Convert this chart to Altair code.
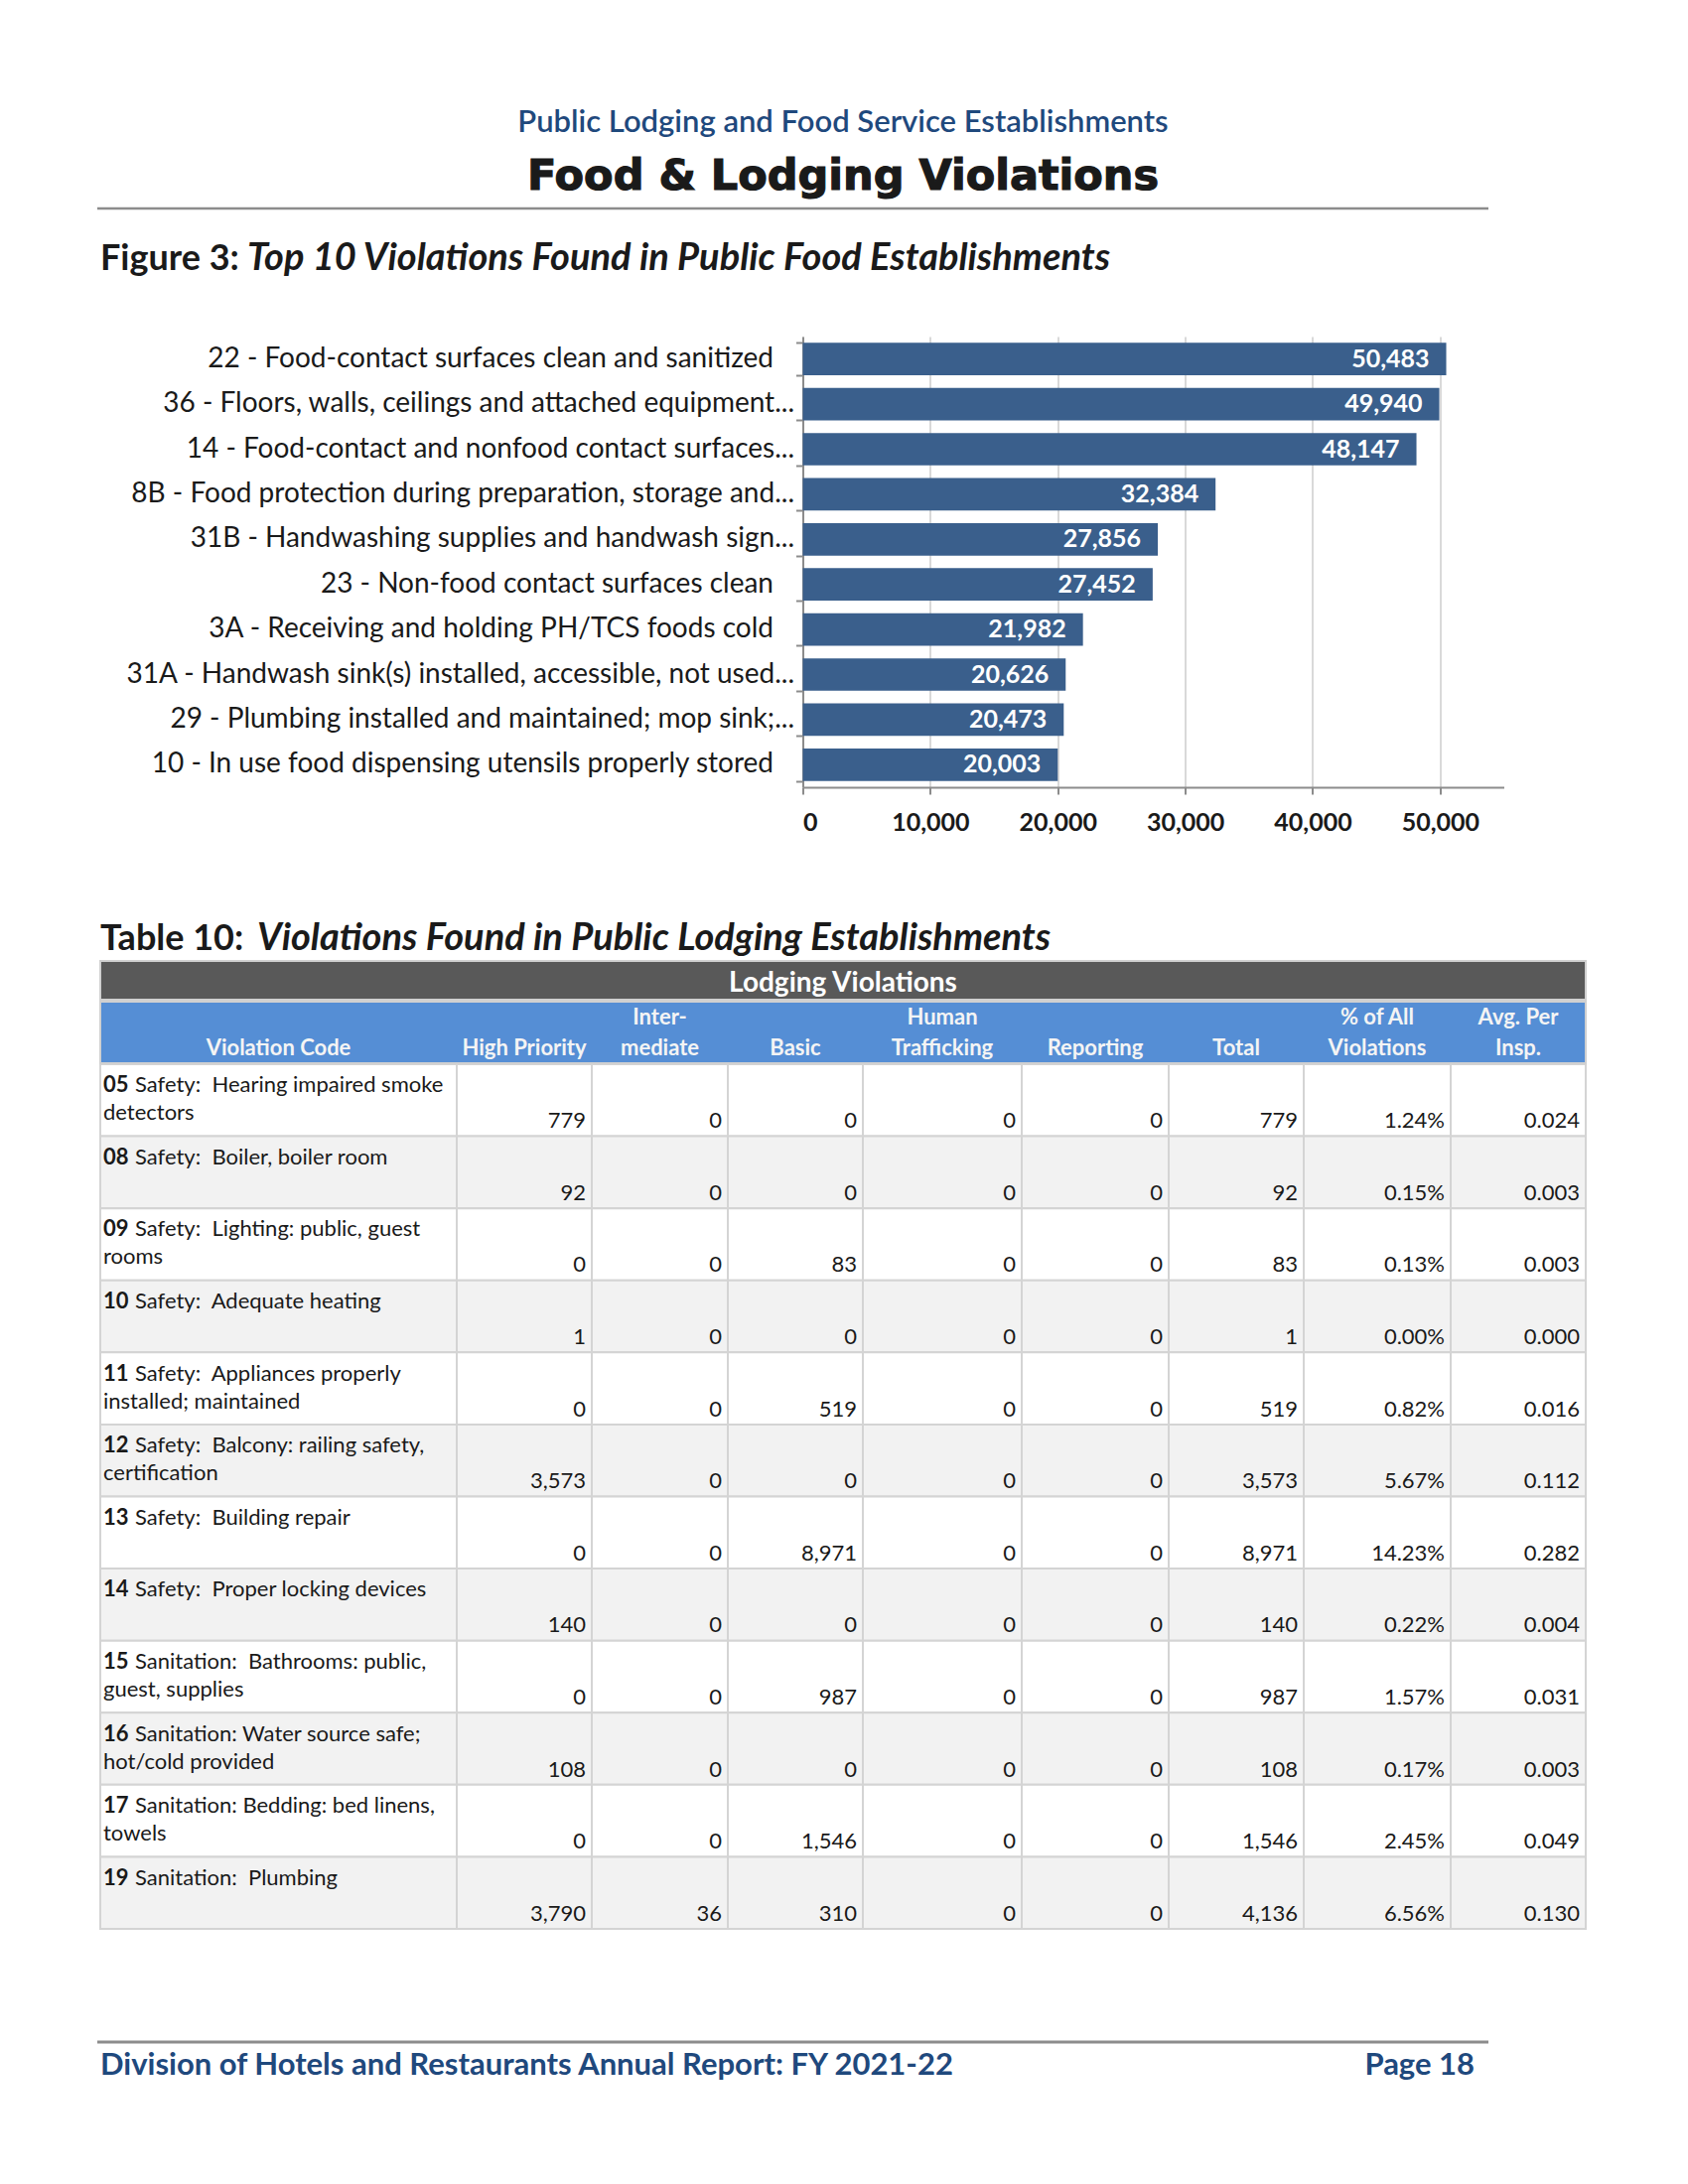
import altair as alt
import pandas as pd

# ---------------- data ----------------
violation_labels = [
    "22 - Food-contact surfaces clean and sanitized",
    "36 - Floors, walls, ceilings and attached equipment...",
    "14 - Food-contact and nonfood contact surfaces...",
    "8B - Food protection during preparation, storage and...",
    "31B - Handwashing supplies and handwash sign...",
    "23 - Non-food contact surfaces clean",
    "3A - Receiving and holding PH/TCS foods cold",
    "31A - Handwash sink(s) installed, accessible, not used...",
    "29 - Plumbing installed and maintained; mop sink;...",
    "10 - In use food dispensing utensils properly stored",
]
violation_counts = [50483, 49940, 48147, 32384, 27856, 27452, 21982, 20626, 20473, 20003]
x_ticks = [0, 10000, 20000, 30000, 40000, 50000]

lodging_codes = ["05", "08", "09", "10", "11", "12", "13", "14", "15", "16", "17", "19"]
lodging_desc_1 = [
    "Safety:  Hearing impaired smoke",
    "Safety:  Boiler, boiler room",
    "Safety:  Lighting: public, guest",
    "Safety:  Adequate heating",
    "Safety:  Appliances properly",
    "Safety:  Balcony: railing safety,",
    "Safety:  Building repair",
    "Safety:  Proper locking devices",
    "Sanitation:  Bathrooms: public,",
    "Sanitation: Water source safe;",
    "Sanitation: Bedding: bed linens,",
    "Sanitation:  Plumbing",
]
lodging_desc_2 = ["detectors", "", "rooms", "", "installed; maintained", "certification",
                  "", "", "guest, supplies", "hot/cold provided", "towels", ""]
high_priority = [779, 92, 0, 1, 0, 3573, 0, 140, 0, 108, 0, 3790]
intermediate = [0, 0, 0, 0, 0, 0, 0, 0, 0, 0, 0, 36]
basic = [0, 0, 83, 0, 519, 0, 8971, 0, 987, 0, 1546, 310]
human_trafficking = [0, 0, 0, 0, 0, 0, 0, 0, 0, 0, 0, 0]
reporting = [0, 0, 0, 0, 0, 0, 0, 0, 0, 0, 0, 0]
total = [779, 92, 83, 1, 519, 3573, 8971, 140, 987, 108, 1546, 4136]
pct_of_all = ["1.24%", "0.15%", "0.13%", "0.00%", "0.82%", "5.67%", "14.23%",
              "0.22%", "1.57%", "0.17%", "2.45%", "6.56%"]
avg_per_insp = ["0.024", "0.003", "0.003", "0.000", "0.016", "0.112", "0.282",
                "0.004", "0.031", "0.003", "0.049", "0.130"]
header_line_1 = ["", "", "Inter-", "", "Human", "", "", "% of All", "Avg. Per"]
header_line_2 = ["Violation Code", "High Priority", "mediate", "Basic", "Trafficking",
                 "Reporting", "Total", "Violations", "Insp."]

# ---------------- layout / style ----------------
OX, OY = 808.5, 339.0          # page position of the bar plot origin
PLOT_W, PLOT_H = 706, 454
X_MAX = 55000
COL_EDGES = [101, 460, 596, 733, 869, 1029, 1177, 1313, 1461, 1597]
ROW_TOP, ROW_BOTTOM = 1072, 1943
FONT = "Lato"
TXT = "#1a1a1a"
NAVY = "#1F497D"
BAR = "#3A5F8C"
AXIS = "#8C8C8C"
TS = 22  # table text size


def px(v):
    return v - OX


def py(v):
    return v - OY


one = pd.DataFrame({"a": [0]})


def label(text, x, y, size, weight="normal", style="normal", color=TXT,
          align="left", font=FONT, **kw):
    return alt.Chart(pd.DataFrame({"t": [text]})).mark_text(
        align=align, baseline="middle", font=font, fontSize=size,
        fontWeight=weight, fontStyle=style, color=color, **kw
    ).encode(x=alt.value(px(x)), y=alt.value(py(y)), text="t:N")


def hrule(x0, x1, y, color, width):
    return alt.Chart(one).mark_rule(color=color, strokeWidth=width).encode(
        x=alt.value(px(x0)), x2=alt.value(px(x1)), y=alt.value(py(y)))


def band_rect(x0, x1, y0, y1, fill, stroke):
    return alt.Chart(one).mark_rect(fill=fill, stroke=stroke, strokeWidth=2).encode(
        x=alt.value(px(x0)), x2=alt.value(px(x1)),
        y=alt.value(py(y0)), y2=alt.value(py(y1)))


# ---------------- bar chart ----------------
bar_df = pd.DataFrame({"label": violation_labels, "count": violation_counts})
y_enc = alt.Y(
    "label:N", sort=violation_labels, title=None,
    scale=alt.Scale(paddingInner=0.28, paddingOuter=0.14),
    axis=alt.Axis(labels=False, tickSize=7, tickColor=AXIS, tickWidth=2,
                  tickBand="extent", domainColor=AXIS, domainWidth=2, grid=False),
)
x_enc = alt.X(
    "count:Q", title=None,
    scale=alt.Scale(domain=[0, X_MAX], nice=False),
    axis=alt.Axis(values=x_ticks, format=",d", labelFont=FONT, labelFontWeight="bold",
                  labelFontSize=25, labelColor=TXT, labelPadding=16, tickSize=7,
                  tickColor=AXIS, tickWidth=2, domainColor=AXIS, domainWidth=2,
                  grid=True, gridColor="#D9D9D9", gridWidth=2),
)
bars = alt.Chart(bar_df).mark_bar(color=BAR).encode(x=x_enc, y=y_enc)
bar_text = alt.Chart(bar_df).mark_text(
    align="right", baseline="middle", dx=-17, color="white", font=FONT,
    fontWeight="bold", fontSize=25
).encode(x="count:Q", y=alt.Y("label:N", sort=violation_labels),
         text=alt.Text("count:Q", format=","))
# category labels: truncated ones sit next to the axis, full ones keep a trailing gap
cat_trunc = alt.Chart(bar_df).transform_filter(
    "indexof(datum.label, '...') >= 0"
).mark_text(align="right", baseline="middle", font=FONT, fontSize=28, color=TXT).encode(
    x=alt.value(-8.5), y=alt.Y("label:N", sort=violation_labels), text="label:N")
cat_full = alt.Chart(bar_df).transform_filter(
    "indexof(datum.label, '...') < 0"
).mark_text(align="right", baseline="middle", font=FONT, fontSize=28, color=TXT).encode(
    x=alt.value(-29.5), y=alt.Y("label:N", sort=violation_labels), text="label:N")
bar_part = alt.layer(bars, bar_text, cat_trunc, cat_full)

# ---------------- table ----------------
xs = alt.Scale(domain=[0, 1700], range=[px(0), px(1700)], nice=False, zero=False)
ys = alt.Scale(domain=lodging_codes, range=[py(ROW_TOP), py(ROW_BOTTOM)],
               paddingInner=0, paddingOuter=0)

cells = []
for i, code in enumerate(lodging_codes):
    for j in range(9):
        cells.append({"code": code, "x0": COL_EDGES[j], "x1": COL_EDGES[j + 1],
                      "shade": "odd" if i % 2 else "even"})
cells = pd.DataFrame(cells)
cell_rect = alt.Chart(cells).mark_rect(stroke="#D4D4D4", strokeWidth=2).encode(
    x=alt.X("x0:Q", scale=xs, axis=None), x2="x1:Q",
    y=alt.Y("code:N", scale=ys, axis=None, sort=lodging_codes),
    fill=alt.Fill("shade:N", scale=alt.Scale(domain=["even", "odd"],
                                              range=["#FFFFFF", "#F2F2F2"]), legend=None),
)

desc_df = pd.DataFrame({
    "code": lodging_codes,
    "d1": [d.replace("  ", "\u00a0 ") for d in lodging_desc_1],
    "d2": lodging_desc_2,
    "xl": [COL_EDGES[0] + 3] * len(lodging_codes),
    "xd": [COL_EDGES[0] + 35] * len(lodging_codes),
})
yrow = alt.Y("code:N", scale=ys, axis=None, sort=lodging_codes)
code_text = alt.Chart(desc_df).mark_text(
    align="left", baseline="middle", dy=-15, font=FONT, fontSize=TS,
    fontWeight="bold", color=TXT
).encode(x=alt.X("xl:Q", scale=xs, axis=None), y=yrow, text="code:N")
desc1_text = alt.Chart(desc_df).mark_text(
    align="left", baseline="middle", dy=-15, font=FONT, fontSize=TS, color=TXT
).encode(x=alt.X("xd:Q", scale=xs, axis=None), y=yrow, text="d1:N")
desc2_text = alt.Chart(desc_df).mark_text(
    align="left", baseline="middle", dy=13, font=FONT, fontSize=TS, color=TXT
).encode(x=alt.X("xl:Q", scale=xs, axis=None), y=yrow, text="d2:N")

value_cols = [high_priority, intermediate, basic, human_trafficking, reporting,
              total, pct_of_all, avg_per_insp]
vals = []
for i, code in enumerate(lodging_codes):
    for k, col in enumerate(value_cols):
        v = col[i]
        txt = f"{v:,}" if isinstance(v, int) else v
        vals.append({"code": code, "xr": COL_EDGES[k + 2] - 6, "txt": txt})
vals = pd.DataFrame(vals)
value_text = alt.Chart(vals).mark_text(
    align="right", baseline="middle", dy=21, font=FONT, fontSize=TS, color=TXT
).encode(x=alt.X("xr:Q", scale=xs, axis=None), y=yrow, text="txt:N")

table_part = alt.layer(cell_rect, code_text, desc1_text, desc2_text, value_text)

# column headers
hdr = pd.DataFrame({
    "xc": [(COL_EDGES[j] + COL_EDGES[j + 1]) / 2 for j in range(9)],
    "h1": header_line_1, "h2": header_line_2,
})
hdr1 = alt.Chart(hdr).mark_text(
    align="center", baseline="middle", font=FONT, fontSize=22, fontWeight="bold",
    color="#F4F4F4"
).encode(x=alt.X("xc:Q", scale=xs, axis=None), y=alt.value(py(1025)), text="h1:N")
hdr2 = alt.Chart(hdr).mark_text(
    align="center", baseline="middle", font=FONT, fontSize=22, fontWeight="bold",
    color="#F4F4F4"
).encode(x=alt.X("xc:Q", scale=xs, axis=None), y=alt.value(py(1056)), text="h2:N")
header_part = alt.layer(hdr1, hdr2)

# ---------------- page decoration ----------------
deco = [
    label("Public Lodging and Food Service Establishments", 849, 124, 31,
          weight=600, color=NAVY, align="center"),
    label("Food & Lodging Violations", 849, 178, 43, weight="bold", color="#1a1a1a",
          align="center", font="DejaVu Sans", stroke="#1a1a1a", strokeWidth=1.2),
    hrule(98, 1499, 210, AXIS, 2.5),
    label("Figure 3:", 101, 261, 36, weight="bold"),
    label("Top 10 Violations Found in Public Food Establishments", 249, 261, 38,
          weight="bold", style="italic"),
    label("Table 10:", 101, 946, 36, weight="bold"),
    label("Violations Found in Public Lodging Establishments", 259, 946, 38,
          weight="bold", style="italic"),
    band_rect(101, 1597, 968, 1007, "#595959", "#D0D0D0"),
    band_rect(101, 1597, 1009, 1071, "#558ED5", "#D0D0D0"),
    label("Lodging Violations", 849, 991, 28, weight="bold", color="white", align="center"),
    hrule(98, 1499, 2057, AXIS, 3),
    label("Division of Hotels and Restaurants Annual Report: FY 2021-22", 101, 2081, 31,
          weight="bold", color=NAVY),
    label("Page 18", 1485, 2081, 31, weight="bold", color=NAVY, align="right"),
]

chart = alt.layer(
    bar_part, table_part, *deco, header_part
).resolve_scale(
    x="independent", y="independent", fill="independent"
).properties(
    width=PLOT_W, height=PLOT_H,
    padding={"left": OX - 8, "top": OY - 8, "right": 160,
             "bottom": 2180 - 8 - OY - PLOT_H},
    autosize=alt.AutoSizeParams(type="none"),
    background="white",
).configure_view(stroke=None)

chart.save("out.html", embed_options={"renderer": "svg", "actions": False})
